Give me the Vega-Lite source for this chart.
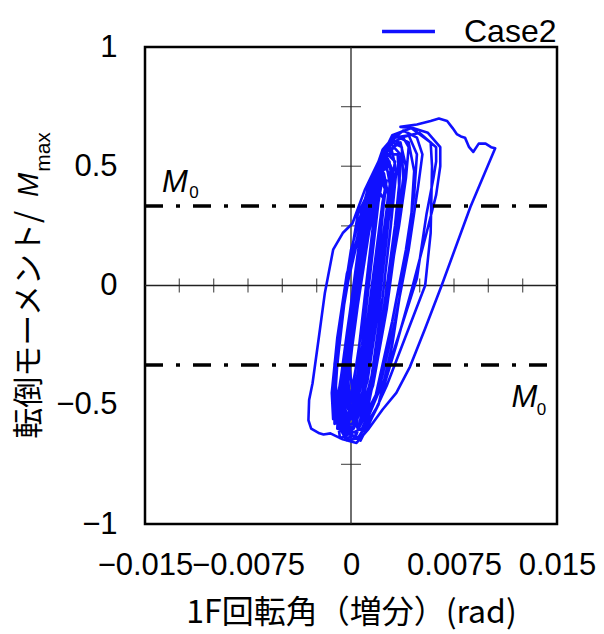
{
  "$schema": "https://vega.github.io/schema/vega-lite/v6.json",
  "width": 412,
  "height": 477,
  "autosize": {"type": "none"},
  "padding": {"left": 145, "top": 47, "right": 47, "bottom": 110},
  "background": "white",
  "config": {
    "view": {"stroke": "black", "strokeWidth": 2.5},
    "axis": {"grid": false, "domain": false, "ticks": false, "labelColor": "black", "titleColor": "black", "labelFont": "Liberation Sans", "labelFontSize": 31},
    "legend": {"padding": 0}
  },
  "datasets": {
    "curve": [
      {"x":0.0003,"y":-0.50},{"x":0.0010,"y":-0.30},{"x":0.0016,"y":0.00},{"x":0.0022,"y":0.28},{"x":0.0025,"y":0.42},{"x":0.0022,"y":0.48},{"x":0.0015,"y":0.38},{"x":0.0008,"y":0.10},{"x":0.0001,"y":-0.20},{"x":-0.0003,"y":-0.42},
      {"x":0.0002,"y":-0.58},{"x":0.0012,"y":-0.40},{"x":0.0020,"y":-0.10},{"x":0.0026,"y":0.20},{"x":0.0030,"y":0.42},{"x":0.0028,"y":0.52},{"x":0.0020,"y":0.48},{"x":0.0005,"y":0.30},{"x":-0.0003,"y":0.02},{"x":-0.0009,"y":-0.28},{"x":-0.0013,"y":-0.50},{"x":-0.0006,"y":-0.60},
      {"x":0.0000,"y":-0.55},{"x":0.0008,"y":-0.25},{"x":0.0014,"y":0.05},{"x":0.0020,"y":0.35},{"x":0.0023,"y":0.45},{"x":0.0019,"y":0.45},{"x":0.0012,"y":0.25},{"x":0.0004,"y":-0.05},{"x":-0.0003,"y":-0.35},{"x":-0.0004,"y":-0.52},
      {"x":0.0000,"y":-0.62},{"x":0.0010,"y":-0.45},{"x":0.0018,"y":-0.15},{"x":0.0024,"y":0.15},{"x":0.0029,"y":0.40},{"x":0.0026,"y":0.50},{"x":0.0018,"y":0.44},{"x":0.0006,"y":0.22},{"x":-0.0006,"y":-0.08},{"x":-0.0012,"y":-0.38},{"x":-0.0013,"y":-0.55},{"x":-0.0005,"y":-0.63},
      {"x":0.0000,"y":-0.48},{"x":0.0006,"y":-0.25},{"x":0.0013,"y":0.05},{"x":0.0018,"y":0.30},{"x":0.0021,"y":0.40},{"x":0.0016,"y":0.40},{"x":0.0010,"y":0.18},{"x":0.0003,"y":-0.10},{"x":-0.0002,"y":-0.35},
      {"x":-0.0002,"y":-0.52},{"x":0.0005,"y":-0.30},{"x":0.0011,"y":0.00},{"x":0.0017,"y":0.30},{"x":0.0020,"y":0.42},{"x":0.0014,"y":0.38},{"x":0.0006,"y":0.10},{"x":-0.0002,"y":-0.22},{"x":-0.0006,"y":-0.45},
      {"x":0.0005,"y":-0.60},{"x":0.0015,"y":-0.38},{"x":0.0023,"y":-0.05},{"x":0.0029,"y":0.25},{"x":0.0033,"y":0.48},{"x":0.0030,"y":0.56},{"x":0.0022,"y":0.52},{"x":0.0011,"y":0.35},{"x":-0.0002,"y":0.05},{"x":-0.0009,"y":-0.25},{"x":-0.0012,"y":-0.48},{"x":-0.0009,"y":-0.60},
      {"x":0.0001,"y":-0.58},{"x":0.0012,"y":-0.38},{"x":0.0020,"y":-0.05},{"x":0.0028,"y":0.30},{"x":0.0031,"y":0.47},{"x":0.0027,"y":0.53},{"x":0.0018,"y":0.42},{"x":0.0009,"y":0.15},{"x":0.0000,"y":-0.18},{"x":-0.0005,"y":-0.45},{"x":-0.0004,"y":-0.56},
      {"x":-0.0003,"y":-0.60},{"x":0.0007,"y":-0.42},{"x":0.0015,"y":-0.12},{"x":0.0021,"y":0.18},{"x":0.0025,"y":0.40},{"x":0.0021,"y":0.46},{"x":0.0011,"y":0.32},{"x":-0.0003,"y":0.05},{"x":-0.0010,"y":-0.22},{"x":-0.0014,"y":-0.45},{"x":-0.0013,"y":-0.56},
      {"x":0.0002,"y":-0.56},{"x":0.0011,"y":-0.32},{"x":0.0019,"y":0.02},{"x":0.0026,"y":0.32},{"x":0.0029,"y":0.46},{"x":0.0024,"y":0.50},{"x":0.0016,"y":0.35},{"x":0.0007,"y":0.06},{"x":-0.0001,"y":-0.26},{"x":-0.0005,"y":-0.48},
      {"x":0.0005,"y":-0.60},{"x":0.0017,"y":-0.36},{"x":0.0025,"y":-0.05},{"x":0.0032,"y":0.25},{"x":0.0035,"y":0.42},{"x":0.0034,"y":0.55},{"x":0.0026,"y":0.55},{"x":0.0016,"y":0.38},{"x":0.0007,"y":0.10},{"x":0.0000,"y":-0.20},{"x":-0.0006,"y":-0.50},
      {"x":-0.0006,"y":-0.62},{"x":0.0004,"y":-0.50},{"x":0.0014,"y":-0.22},{"x":0.0022,"y":0.10},{"x":0.0028,"y":0.36},{"x":0.0032,"y":0.52},{"x":0.0025,"y":0.56},{"x":0.0013,"y":0.42},{"x":0.0000,"y":0.15},{"x":-0.0008,"y":-0.15},{"x":-0.0011,"y":-0.42},{"x":-0.0009,"y":-0.58},
      {"x":0.0004,"y":-0.62},{"x":0.0016,"y":-0.42},{"x":0.0026,"y":-0.10},{"x":0.0033,"y":0.20},{"x":0.0038,"y":0.45},{"x":0.0037,"y":0.58},{"x":0.0030,"y":0.60},{"x":0.0020,"y":0.50},{"x":0.0010,"y":0.25},{"x":0.0002,"y":-0.05},{"x":-0.0005,"y":-0.35},{"x":-0.0008,"y":-0.55},{"x":-0.0002,"y":-0.62},
      {"x":0.0002,"y":-0.60},{"x":0.0015,"y":-0.40},{"x":0.0027,"y":0.00},{"x":0.0035,"y":0.30},{"x":0.0040,"y":0.50},{"x":0.0036,"y":0.60},{"x":0.0026,"y":0.56},{"x":0.0016,"y":0.40},{"x":0.0006,"y":0.10},{"x":-0.0002,"y":-0.22},{"x":-0.0007,"y":-0.48},{"x":-0.0004,"y":-0.60},
      {"x":0.0003,"y":-0.64},{"x":0.0013,"y":-0.48},{"x":0.0022,"y":-0.20},{"x":0.0029,"y":0.10},{"x":0.0035,"y":0.38},{"x":0.0036,"y":0.55},{"x":0.0028,"y":0.60},{"x":0.0018,"y":0.48},{"x":0.0007,"y":0.25},{"x":-0.0005,"y":-0.05},{"x":-0.0012,"y":-0.33},{"x":-0.0013,"y":-0.55},{"x":-0.0004,"y":-0.64},
      {"x":0.0003,"y":-0.63},{"x":0.0018,"y":-0.46},{"x":0.0030,"y":-0.15},{"x":0.0040,"y":0.15},{"x":0.0046,"y":0.38},{"x":0.0048,"y":0.55},{"x":0.0042,"y":0.63},{"x":0.0032,"y":0.62},{"x":0.0022,"y":0.55},{"x":0.0013,"y":0.38},{"x":0.0005,"y":0.12},{"x":-0.0003,"y":-0.20},{"x":-0.0009,"y":-0.46},{"x":-0.0009,"y":-0.60},
      {"x":0.0007,"y":-0.65},{"x":0.0020,"y":-0.50},{"x":0.0030,"y":-0.25},{"x":0.0038,"y":0.05},{"x":0.0044,"y":0.30},{"x":0.0046,"y":0.48},{"x":0.0042,"y":0.60},{"x":0.0032,"y":0.63},{"x":0.0023,"y":0.57},{"x":0.0014,"y":0.42},{"x":0.0006,"y":0.18},{"x":-0.0001,"y":-0.12},{"x":-0.0008,"y":-0.42},{"x":-0.0010,"y":-0.60},
      {"x":0.0006,"y":-0.64},{"x":0.0020,"y":-0.45},{"x":0.0032,"y":-0.15},{"x":0.0042,"y":0.15},{"x":0.0049,"y":0.42},{"x":0.0052,"y":0.55},{"x":0.0048,"y":0.62},{"x":0.0038,"y":0.65},{"x":0.0028,"y":0.60},{"x":0.0017,"y":0.45},{"x":0.0008,"y":0.20},{"x":0.0000,"y":-0.10},{"x":-0.0007,"y":-0.40},{"x":-0.0010,"y":-0.58},{"x":-0.0003,"y":-0.65},
      {"x":0.0005,"y":-0.64},{"x":0.0020,"y":-0.50},{"x":0.0033,"y":-0.25},{"x":0.0045,"y":0.00},{"x":0.0055,"y":0.22},{"x":0.0062,"y":0.38},{"x":0.0065,"y":0.50},{"x":0.0065,"y":0.58},{"x":0.0056,"y":0.64},{"x":0.0045,"y":0.66},{"x":0.0036,"y":0.665},{"x":0.0048,"y":0.675},{"x":0.0058,"y":0.69},{"x":0.0064,"y":0.70},{"x":0.0070,"y":0.69},{"x":0.0074,"y":0.66},{"x":0.0077,"y":0.635},{"x":0.0080,"y":0.625},{"x":0.0083,"y":0.62},{"x":0.0086,"y":0.58},{"x":0.0089,"y":0.56},{"x":0.0093,"y":0.595},{"x":0.0098,"y":0.595},{"x":0.0102,"y":0.58},{"x":0.0105,"y":0.575},
      {"x":0.0087,"y":0.33},{"x":0.0066,"y":0.00},{"x":0.0054,"y":-0.18},{"x":0.0043,"y":-0.34},{"x":0.0033,"y":-0.45},{"x":0.0023,"y":-0.52},{"x":0.0013,"y":-0.60},{"x":0.0004,"y":-0.66},{"x":-0.0006,"y":-0.645},{"x":-0.0015,"y":-0.62},{"x":-0.0020,"y":-0.625},{"x":-0.0023,"y":-0.62},{"x":-0.0029,"y":-0.60},{"x":-0.0031,"y":-0.565},{"x":-0.00305,"y":-0.48},{"x":-0.0028,"y":-0.41},{"x":-0.0023,"y":-0.20},{"x":-0.0019,"y":-0.03},{"x":-0.0013,"y":0.15},{"x":-0.0006,"y":0.22},{"x":0.0001,"y":0.26},{"x":0.0010,"y":0.40},{"x":0.0020,"y":0.52},{"x":0.0030,"y":0.60},{"x":0.0038,"y":0.62},{"x":0.0042,"y":0.58},{"x":0.0040,"y":0.45},{"x":0.0035,"y":0.25},{"x":0.0026,"y":-0.05},{"x":0.0018,"y":-0.35},{"x":0.0010,"y":-0.58},
      {"x":0.0010,"y":-0.62},{"x":0.0026,"y":-0.42},{"x":0.0042,"y":-0.18},{"x":0.0054,"y":0.00},{"x":0.0058,"y":0.22},{"x":0.0059,"y":0.50},{"x":0.0058,"y":0.60},{"x":0.0044,"y":0.66},{"x":0.0030,"y":0.63},{"x":0.0019,"y":0.50},{"x":0.0010,"y":0.30},{"x":0.0003,"y":0.02},{"x":-0.0005,"y":-0.30},{"x":-0.0011,"y":-0.52},{"x":-0.0008,"y":-0.64},
      {"x":0.0008,"y":-0.60},{"x":0.0024,"y":-0.40},{"x":0.0038,"y":-0.15},{"x":0.0048,"y":0.03},{"x":0.0055,"y":0.30},{"x":0.0060,"y":0.45},{"x":0.0062,"y":0.52},{"x":0.0062,"y":0.58},{"x":0.0050,"y":0.64},{"x":0.0036,"y":0.62},{"x":0.0024,"y":0.52},{"x":0.0013,"y":0.33},{"x":0.0005,"y":0.05},{"x":-0.0003,"y":-0.25},{"x":-0.0009,"y":-0.50},{"x":-0.0005,"y":-0.62},
      {"x":0.0004,"y":-0.58},{"x":0.0013,"y":-0.30},{"x":0.0021,"y":0.05},{"x":0.0028,"y":0.36},{"x":0.0030,"y":0.48},{"x":0.0025,"y":0.52},{"x":0.0017,"y":0.40},{"x":0.0009,"y":0.12},{"x":0.0001,"y":-0.22},{"x":-0.0004,"y":-0.48},
      {"x":-0.0004,"y":-0.60},{"x":0.0006,"y":-0.44},{"x":0.0016,"y":-0.16},{"x":0.0023,"y":0.14},{"x":0.0027,"y":0.38},{"x":0.0024,"y":0.47},{"x":0.0014,"y":0.38},{"x":0.0001,"y":0.12},{"x":-0.0008,"y":-0.18},{"x":-0.0012,"y":-0.44},{"x":-0.0012,"y":-0.58},
      {"x":0.0001,"y":-0.54},{"x":0.0009,"y":-0.28},{"x":0.0017,"y":0.08},{"x":0.0023,"y":0.35},{"x":0.0026,"y":0.44},{"x":0.0021,"y":0.44},{"x":0.0013,"y":0.22},{"x":0.0005,"y":-0.08},{"x":-0.0002,"y":-0.38},{"x":-0.0001,"y":-0.50},
      {"x":0.0003,"y":-0.52},{"x":0.0011,"y":-0.22},{"x":0.0018,"y":0.10},{"x":0.0024,"y":0.36},{"x":0.0020,"y":0.40},{"x":0.0012,"y":0.20},{"x":0.0004,"y":-0.10},{"x":-0.0001,"y":-0.35},{"x":0.0002,"y":-0.48}
    ]
  },
  "encoding": {
    "x": {"field": "x", "type": "quantitative", "scale": {"domain": [-0.015, 0.015], "nice": false, "zero": false},
      "axis": {"values": [-0.015, -0.0075, 0, 0.0075, 0.015], "format": ".4~f", "labelFlush": false, "labelOverlap": false, "labelPadding": 26,
        "title": "1F回転角（増分）(rad)", "titleFont": "Noto Sans CJK JP", "titleFontSize": 32, "titleFontWeight": "normal", "titlePadding": 17}},
    "y": {"field": "y", "type": "quantitative", "scale": {"domain": [-1, 1], "nice": false, "zero": false},
      "axis": {"values": [-1, -0.5, 0, 0.5, 1], "format": "~g", "labelFlush": false, "labelOverlap": false, "labelPadding": 28, "title": null}}
  },
  "layer": [
    {"data": {"values": [{"x": 0, "y": -1, "y2": 1}]}, "mark": {"type": "rule", "color": "#222", "strokeWidth": 1.3}, "encoding": {"y2": {"field": "y2"}}},
    {"data": {"values": [{"x": -0.015, "x2": 0.015, "y": 0}]}, "mark": {"type": "rule", "color": "#222", "strokeWidth": 1.3}, "encoding": {"x2": {"field": "x2"}}},
    {"data": {"values": [{"x": -0.0125, "y": 0}, {"x": -0.01, "y": 0}, {"x": -0.0075, "y": 0}, {"x": -0.005, "y": 0}, {"x": -0.0025, "y": 0}, {"x": 0.0025, "y": 0}, {"x": 0.005, "y": 0}, {"x": 0.0075, "y": 0}, {"x": 0.01, "y": 0}, {"x": 0.0125, "y": 0}]},
      "mark": {"type": "tick", "orient": "vertical", "size": 14, "thickness": 1.3, "color": "#222"}},
    {"data": {"values": [{"x": 0, "y": -0.75}, {"x": 0, "y": -0.5}, {"x": 0, "y": -0.25}, {"x": 0, "y": 0.25}, {"x": 0, "y": 0.5}, {"x": 0, "y": 0.75}]},
      "mark": {"type": "tick", "orient": "horizontal", "size": 20, "thickness": 1.3, "color": "#222"}},
    {"data": {"name": "curve"}, "mark": {"type": "line", "strokeWidth": 2.6, "strokeJoin": "round"},
      "encoding": {"order": {"value": null},
        "color": {"datum": "Case2", "scale": {"range": ["#1010ff"]},
          "legend": {"title": null, "orient": "none", "legendX": 235, "legendY": -44, "symbolType": "stroke", "symbolSize": 2800, "symbolStrokeWidth": 3.5, "labelFont": "Liberation Sans", "labelFontSize": 32, "labelColor": "black", "labelOffset": 27}}}},
    {"data": {"values": [{"x": -0.015, "x2": 0.015, "y": 0.3333}, {"x": -0.015, "x2": 0.015, "y": -0.3333}]},
      "mark": {"type": "rule", "color": "black", "strokeWidth": 3.5, "strokeDash": [18, 13, 4, 13]}, "encoding": {"x2": {"field": "x2"}}},
    {"data": {"values": [{"x": -0.01282, "y": 0.392, "t": "M"}, {"x": 0.01262, "y": -0.509, "t": "M"}]},
      "mark": {"type": "text", "font": "Liberation Sans", "fontStyle": "italic", "fontSize": 31, "align": "center", "baseline": "alphabetic", "color": "black"}, "encoding": {"text": {"field": "t"}}},
    {"data": {"values": [{"x": -0.01144, "y": 0.367, "t": "0"}, {"x": 0.01387, "y": -0.543, "t": "0"}]},
      "mark": {"type": "text", "font": "Liberation Sans", "fontSize": 17, "align": "center", "baseline": "alphabetic", "color": "black"}, "encoding": {"text": {"field": "t"}}},
    {"data": {"values": [{"x": -0.02337, "y": -0.165, "t": "転倒モーメント/"}]},
      "mark": {"type": "text", "font": "Noto Sans CJK JP", "fontSize": 31, "angle": 270, "align": "center", "baseline": "middle", "color": "black"}, "encoding": {"text": {"field": "t"}}},
    {"data": {"values": [{"x": -0.02279, "y": 0.4214, "t": "M"}]},
      "mark": {"type": "text", "font": "Liberation Sans", "fontStyle": "italic", "fontSize": 29, "angle": 270, "align": "center", "baseline": "alphabetic", "color": "black"}, "encoding": {"text": {"field": "t"}}},
    {"data": {"values": [{"x": -0.02192, "y": 0.5597, "t": "max"}]},
      "mark": {"type": "text", "font": "Liberation Sans", "fontSize": 21, "angle": 270, "align": "center", "baseline": "alphabetic", "color": "black"}, "encoding": {"text": {"field": "t"}}}
  ]
}
